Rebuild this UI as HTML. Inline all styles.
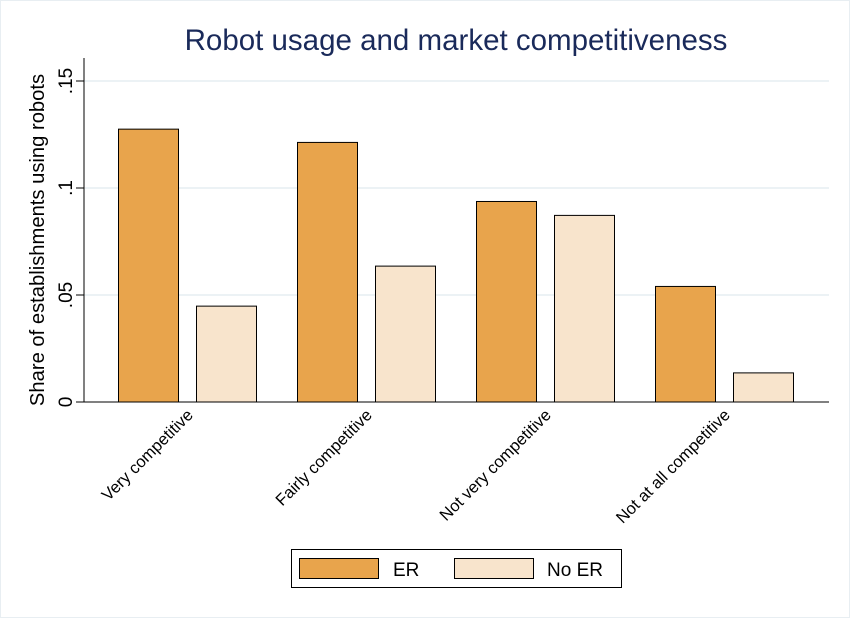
<!DOCTYPE html>
<html><head><meta charset="utf-8"><style>
body{margin:0;background:#fff;}
svg{display:block;font-family:"Liberation Sans",Arial,sans-serif;}
</style></head><body>
<svg width="850" height="618" viewBox="0 0 850 618">
<rect x="0.5" y="0.5" width="849" height="617" fill="#fff" stroke="#e8eef2"/>
<text x="456" y="50" text-anchor="middle" font-size="29.5" fill="#1a2a5a">Robot usage and market competitiveness</text>
<g id="grid"></g>
<g id="bars"></g>
<g id="axes"></g>
<text transform="translate(44,240) rotate(-90)" text-anchor="middle" font-size="20.2" fill="#000">Share of establishments using robots</text>
<g>
<rect x="291.5" y="549.5" width="330" height="38" fill="#fff" stroke="#000"/>
<rect x="299.5" y="558.5" width="79" height="20" fill="#e8a44c" stroke="#000"/>
<text x="393" y="576" font-size="19">ER</text>
<rect x="454.5" y="558.5" width="79" height="20" fill="#f8e4cc" stroke="#000"/>
<text x="547" y="576" font-size="19">No ER</text>
</g>
</svg>
<script>
const categories=["Very competitive","Fairly competitive","Not very competitive","Not at all competitive"];
const erValues=[0.1275,0.1213,0.0937,0.0540];
const noErValues=[0.0448,0.0635,0.0872,0.0136];
const tickValues=[0,0.05,0.1,0.15];
const tickLabels=["0",".05",".1",".15"];
const NS="http://www.w3.org/2000/svg";
const x0=84,x1=829,yBase=402,yPerUnit=(402-81)/0.15;
const y=v=>yBase-v*yPerUnit;
const groupX=i=>118+i*179;
function mk(t,a,p){const e=document.createElementNS(NS,t);for(const k in a)e.setAttribute(k,a[k]);p.appendChild(e);return e;}
const grid=document.getElementById('grid'),bars=document.getElementById('bars'),axes=document.getElementById('axes');
tickValues.forEach((v,i)=>{
  if(v>0){const g=mk('line',{x1:x0,x2:x1,y1:y(v),y2:y(v),stroke:'#e6eef2','stroke-width':1.5},grid);
  
  }
  const t=mk('line',{x1:76,x2:x0,y1:y(v),y2:y(v),stroke:'#000'},axes);
  
  
  const l=mk('text',{transform:`translate(72,${y(v)}) rotate(-90)`,'text-anchor':'middle','font-size':19},axes);
  l.textContent=tickLabels[i];
  
  
});
const ya=mk('line',{x1:x0,x2:x0,y1:58,y2:yBase,stroke:'#000'},axes);


const xa=mk('line',{x1:x0,x2:x1,y1:yBase,y2:yBase,stroke:'#000'},axes);


categories.forEach((c,i)=>{
  const gx=groupX(i);
  const b1=mk('rect',{x:gx+0.5,y:y(erValues[i]),width:60,height:yBase-y(erValues[i]),fill:'#e8a44c',stroke:'#000','stroke-width':1},bars);
  
  
  const b2=mk('rect',{x:gx+78.5,y:y(noErValues[i]),width:60,height:yBase-y(noErValues[i]),fill:'#f8e4cc',stroke:'#000','stroke-width':1},bars);
  
  
  const t=mk('text',{transform:`translate(${gx+76},416) rotate(-45)`,'text-anchor':'end','font-size':16.5},axes);
  t.textContent=c;
  
  
});
</script>
</body></html>
